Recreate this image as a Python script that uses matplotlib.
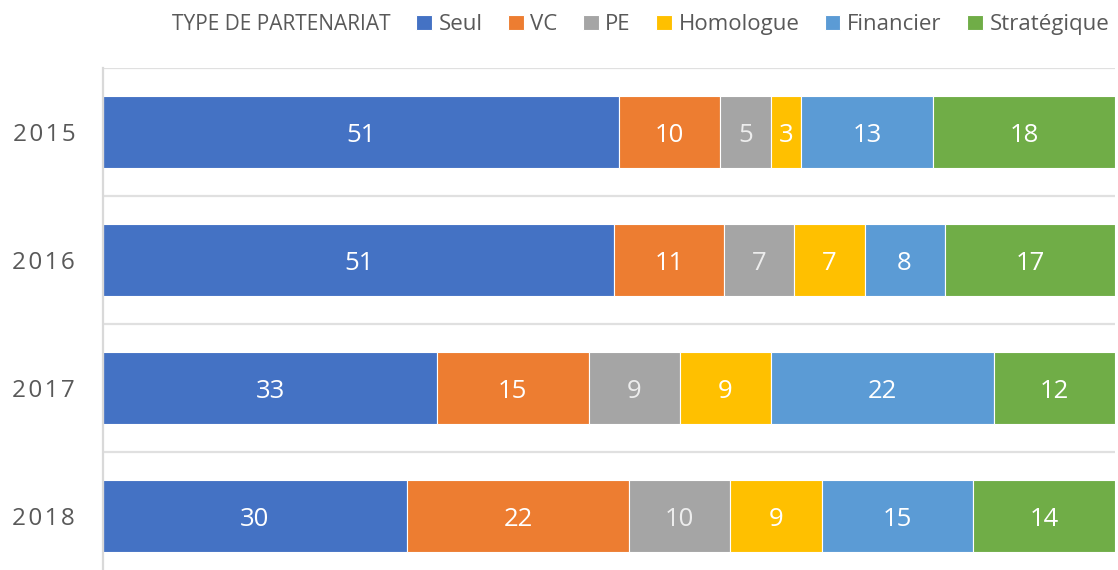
import numpy as np
import matplotlib
matplotlib.use("Agg")
import matplotlib.pyplot as plt
from matplotlib.patches import Rectangle

plt.rcParams['font.family'] = ['Open Sans', 'DejaVu Sans']

# data
years = ["2015", "2016", "2017", "2018"]
series = ["Seul", "VC", "PE", "Homologue", "Financier", "Stratégique"]
seul = [51, 51, 33, 30]
vc = [10, 11, 15, 22]
pe = [5, 7, 9, 10]
homologue = [3, 7, 9, 9]
financier = [13, 8, 22, 15]
strategique = [18, 17, 12, 14]
colors = ["#4472C4", "#ED7D31", "#A5A5A5", "#FFC000", "#5B9BD5", "#70AD47"]

values = np.array([seul, vc, pe, homologue, financier, strategique], dtype=float)
shares = values / values.sum(axis=0) * 100  # 100% stacked

fig = plt.figure(figsize=(11.18, 5.70), dpi=100)
ax = fig.add_axes([103 / 1118, -10 / 570, 1012 / 1118, 512 / 570])

y = np.arange(len(years))
left = np.zeros(len(years))
bars = []
for i, name in enumerate(series):
    b = ax.barh(y, shares[i], left=left, height=0.56, color=colors[i],
                edgecolor="white", linewidth=0.8, label=name)
    bars.append(b)
    lab_color = "#EDEDED" if name == "PE" else "white"
    for j in range(len(years)):
        ax.text(left[j] + shares[i][j] / 2, y[j], f"{int(values[i][j])}",
                ha="center", va="center_baseline", color=lab_color, fontsize=18.5)
    left += shares[i]

ax.set_xlim(0, 100)
ax.set_ylim(len(years) - 0.5, -0.5)
ax.set_xticks([])
ax.set_yticks(y)
ax.set_yticklabels(["\u200a".join(yr) for yr in years], fontsize=17.5, color="#595959",
                   va="center_baseline")
ax.tick_params(axis="y", length=0, pad=20)
for k in range(len(years)):
    ax.axhline(k - 0.5, color="#E0E0E0", lw=1.6, zorder=0)
for s in ["top", "right", "bottom"]:
    ax.spines[s].set_visible(False)
ax.spines["left"].set_color("#D9D9D9")
ax.spines["left"].set_linewidth(1.6)

# legend with title on the left
title_handle = Rectangle((0, 0), 1, 1, fill=False, edgecolor="none", visible=False)
handles = [title_handle] + [b.patches[0] for b in bars]
labels = ["TYPE DE PARTENARIAT"] + series
leg = fig.legend(handles, labels, loc="upper right", bbox_to_anchor=(1.01, 1.01),
                 ncol=7, frameon=False, fontsize=16, handlelength=0.7,
                 handleheight=0.7, handletextpad=0.3, columnspacing=1.15,
                 labelcolor="#595959")
texts = leg.get_texts()
texts[0].set_fontsize(15)
leg.legend_handles[0].set_visible(False)

fig.savefig("out.png", dpi=100)
